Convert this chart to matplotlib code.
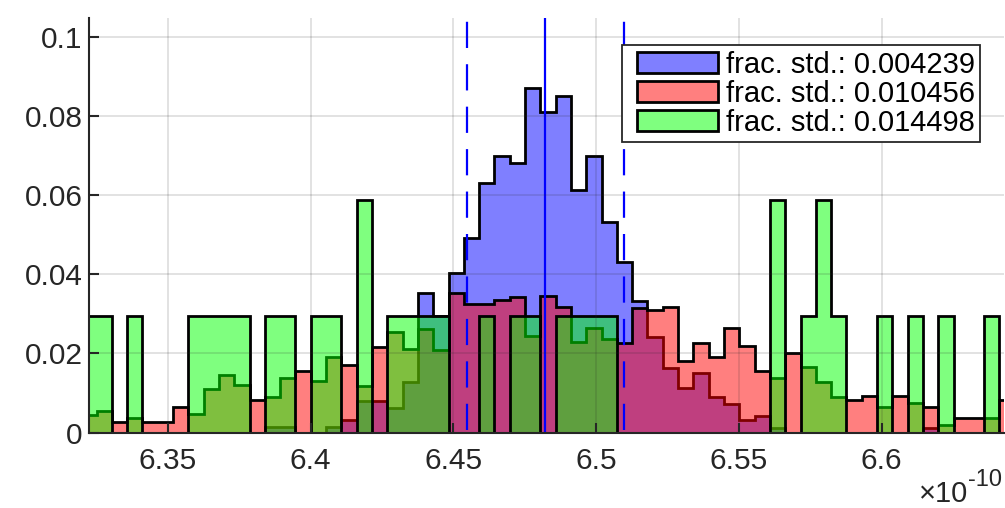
import numpy as np
import matplotlib
matplotlib.use('Agg')
import matplotlib.pyplot as plt
from matplotlib.ticker import FuncFormatter
from matplotlib.patches import Rectangle, StepPatch
from matplotlib.legend_handler import HandlerPatch

plt.rcParams['font.family'] = ['Liberation Sans', 'DejaVu Sans']

# bins do histograma (eixo x em unidades de 1e-10)
bin_start = 6.319646
bin_width = 0.0053604

# alturas (probabilidade) por bin
blue = [0, 0, 0, 0, 0, 0, 0, 0, 0, 0, 0, 0,
        0.0013, 0.0013, 0, 0,
        0.0013, 0.0032, 0.0080, 0.0080, 0.0061, 0.0128, 0.0352, 0.0294, 0.0402, 0.0492,
        0.0631, 0.0699, 0.0680, 0.0870, 0.0810, 0.0851, 0.0613, 0.0699, 0.0531, 0.0431,
        0.0332, 0.0242, 0.0162, 0.0112, 0.0150, 0.0091, 0.0072, 0.0032, 0.0042, 0.0012,
        0, 0, 0, 0, 0, 0, 0, 0, 0,
        0.0012,
        0, 0, 0, 0, 0]
red = [0.0044, 0.0055, 0.0026, 0.0038, 0.0026, 0.0026, 0.0065, 0.0047, 0.0111, 0.0146,
       0.0119, 0.0082, 0.0091, 0.0137, 0.0156, 0.0130, 0.0192, 0.0172, 0.0118, 0.0217,
       0.0254, 0.0210, 0.0261, 0.0209, 0.0352, 0.0326, 0.0326, 0.0336, 0.0343, 0.0245,
       0.0345, 0.0318, 0.0229, 0.0263, 0.0237, 0.0226, 0.0315, 0.0309, 0.0316, 0.0182,
       0.0226, 0.0192, 0.0263, 0.0218, 0.0156, 0.0137, 0.0201, 0.0165, 0.0128, 0.0091,
       0.0083, 0.0092, 0.0065, 0.0092, 0.0074, 0.0064, 0.0019, 0.0037, 0.0037, 0.0037,
       0.0082]
green_counts = [1, 1, 0, 1, 0, 0, 0, 1, 1, 1, 1, 0, 1, 1, 0, 1, 1, 0, 2, 0,
                1, 1, 1, 1, 0, 0, 1, 0, 1, 1, 0, 1, 1, 1, 1, 0, 0, 0, 0, 0,
                0, 0, 0, 0, 0, 2, 0, 1, 2, 1, 0, 0, 1, 0, 1, 0, 1, 0, 0, 1, 0]

labels = ['frac. std.: 0.004239', 'frac. std.: 0.010456', 'frac. std.: 0.014498']
mean_val = 6.4822
frac_std = 0.004239

green = np.array(green_counts) / np.sum(green_counts)
edges = bin_start + bin_width * np.arange(len(blue) + 1)

txt = '#262626'
fig = plt.figure(figsize=(10.05, 5.08), dpi=100)
ax = fig.add_axes([0.0889, 0.1484, 0.9105, 0.8161])

for vals, col, lab in zip([blue, red, green], [(0, 0, 1, 0.5), (1, 0, 0, 0.5), (0, 1, 0, 0.5)], labels):
    ax.stairs(vals, edges, fill=True, facecolor=col, edgecolor='k', linewidth=2.0, label=lab)

std_val = frac_std * mean_val
ytop = 0.1047
ax.axvline(mean_val, color='b', lw=1.6)
for xv in [mean_val - std_val, mean_val + std_val]:
    ax.plot([xv, xv], [ytop, 0], color='b', lw=1.6, ls=(17.4, (11.8, 7.3)))

ax.set_xlim(6.3225, 6.6430)
ax.set_ylim(0, ytop)
ax.set_xticks([6.35, 6.4, 6.45, 6.5, 6.55, 6.6])
ax.set_yticks([0, 0.02, 0.04, 0.06, 0.08, 0.1])
ax.xaxis.set_major_formatter(FuncFormatter(lambda v, p: f'{v:g}'))
ax.yaxis.set_major_formatter(FuncFormatter(lambda v, p: f'{v:g}'))
ax.tick_params(direction='in', length=7.5, width=1.5, colors=txt, labelsize=21.5)
ax.tick_params(axis='x', pad=10)
ax.tick_params(axis='y', pad=5)

ax.set_axisbelow(False)
ax.grid(True, color=txt, alpha=0.15, lw=1.3)
for s in ['top', 'right']:
    ax.spines[s].set_visible(False)
for s in ['left', 'bottom']:
    ax.spines[s].set_color(txt)
    ax.spines[s].set_linewidth(1.5)


def swatch(legend, orig_handle, xdescent, ydescent, width, height, fontsize):
    # retangulo deslocado para deixar margem a esquerda
    dx = 7.2
    return Rectangle((-xdescent + dx, -ydescent), width - dx, height)


leg = ax.legend(loc='upper right', bbox_to_anchor=(0.9738, 0.9349), borderaxespad=0,
                fontsize=21, handlelength=3.12, handleheight=0.72, handletextpad=0.26,
                labelspacing=0.04, borderpad=0.19, fancybox=False, framealpha=1,
                handler_map={StepPatch: HandlerPatch(patch_func=swatch)})
leg.get_frame().set_edgecolor(txt)
leg.get_frame().set_linewidth(1.3)

# multiplicador do eixo x
fig.text(968 / 1005, 1 - 502 / 508, '\u00d710', fontsize=21, color=txt, ha='right', va='baseline')
fig.text(968 / 1005, 1 - 486 / 508, '-10', fontsize=17, color=txt, ha='left', va='baseline')

fig.savefig('out.png', dpi=100)
